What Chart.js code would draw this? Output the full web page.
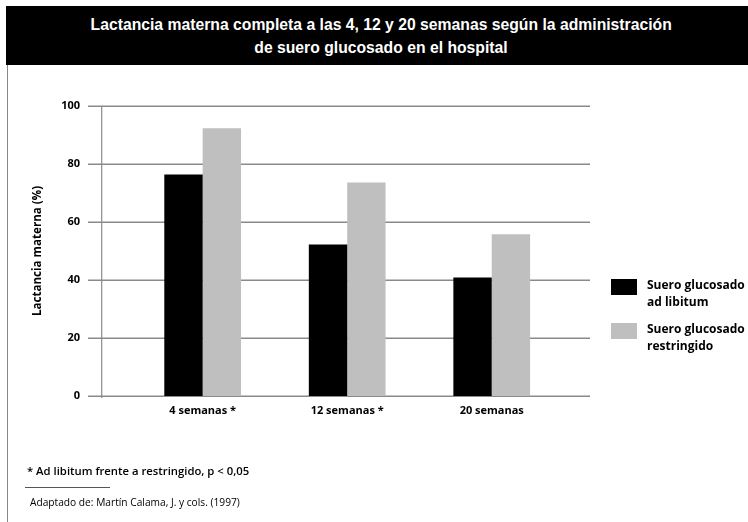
<!DOCTYPE html>
<html>
<head>
<meta charset="utf-8">
<script src="https://cdn.jsdelivr.net/npm/chart.js@4.4.1/dist/chart.umd.min.js"></script>
<style>
  html, body { margin:0; padding:0; background:#fff; }
  body { width:748px; height:522px; position:relative; overflow:hidden; font-family:"Open Sans", sans-serif; }
  #c { position:absolute; left:0; top:0; }
  #banner { position:absolute; left:6px; top:6px; width:742px; height:59px; background:#000; color:#fff;
    font-family:"Liberation Sans", sans-serif; font-weight:bold; font-size:17px;
    line-height:23px; text-align:center; box-sizing:border-box; padding-top:7px; padding-left:8px; }
  #banner span { display:inline-block; transform:scaleX(0.925); transform-origin:center; white-space:nowrap; }
  #lborder { position:absolute; left:7px; top:65px; width:1px; height:457px; background:#888; }
  .leg { position:absolute; left:611px; width:26px; height:16px; }
  .legt { position:absolute; left:647px; font-weight:bold; font-size:12px; line-height:17px; color:#000; }
  #note { position:absolute; left:27px; top:463px; font-size:11.3px; font-weight:600; color:#000; }
  #rule { position:absolute; left:25px; top:487px; width:85px; height:1px; background:#555; }
  #src { position:absolute; left:30px; top:495px; font-size:10.2px; color:#000; }
</style>
</head>
<body>
<canvas id="c" width="748" height="522"></canvas>
<div id="banner"><span>Lactancia materna completa a las 4, 12 y 20 semanas según la administración</span><br><span>de suero glucosado en el hospital</span></div>
<div id="lborder"></div>
<div class="leg" style="top:279px;background:#000"></div>
<div class="legt" style="top:276px">Suero glucosado<br>ad libitum</div>
<div class="leg" style="top:323px;background:#bfbfbf"></div>
<div class="legt" style="top:320px">Suero glucosado<br>restringido</div>
<div id="note">* Ad libitum frente a restringido, p &lt; 0,05</div>
<div id="rule"></div>
<div id="src">Adaptado de: Martín Calama, J. y cols. (1997)</div>
<script>
const categories = ["4 semanas *", "12 semanas *", "20 semanas"];
const seriesNames = ["Suero glucosado ad libitum", "Suero glucosado restringido"];
const adLibitum = [76.4, 52.2, 40.9];
const restringido = [92.3, 73.6, 55.8];
const yTicks = [0, 20, 40, 60, 80, 100];

const gridPlugin = {
  id: 'customGrid',
  beforeDatasetsDraw(chart) {
    const ctx = chart.ctx;
    const y = chart.scales.y;
    ctx.save();
    ctx.strokeStyle = '#8a8a8a';
    ctx.lineWidth = 1.5;
    yTicks.forEach(v => {
      const py = Math.round(y.getPixelForValue(v)) + 0.25;
      ctx.beginPath();
      ctx.moveTo(88, py);
      ctx.lineTo(590, py);
      ctx.stroke();
    });
    ctx.lineWidth = 1.2;
    ctx.beginPath();
    ctx.moveTo(101.7, y.getPixelForValue(100));
    ctx.lineTo(101.7, y.getPixelForValue(0) + 2);
    ctx.stroke();
    ctx.restore();
  }
};

new Chart(document.getElementById('c'), {
  type: 'bar',
  data: {
    labels: categories,
    datasets: [
      { label: seriesNames[0], data: adLibitum, backgroundColor: '#000000' },
      { label: seriesNames[1], data: restringido, backgroundColor: '#bfbfbf' }
    ]
  },
  options: {
    responsive: false,
    animation: false,
    devicePixelRatio: 1,
    layout: { padding: { left: 0, top: 106, right: 184, bottom: 96 } },
    plugins: { legend: { display: false }, tooltip: { enabled: false } },
    datasets: { bar: { categoryPercentage: 0.531, barPercentage: 1.0 } },
    scales: {
      x: {
        grid: { display: false, drawTicks: false },
        border: { display: false },
        ticks: { padding: 8, color: '#000', font: { family: 'Open Sans', weight: 'bold', size: 11 } },
        afterFit(s) { s.height = 30; }
      },
      y: {
        min: 0, max: 100,
        afterBuildTicks(s) { s.ticks = yTicks.map(v => ({ value: v })); },
        grid: { display: false, drawTicks: false },
        border: { display: false },
        ticks: { padding: 50.4, color: '#000', font: { family: 'Open Sans', weight: 'bold', size: 11 } },
        title: { display: true, text: 'Lactancia materna (%)', color: '#000',
                 font: { family: 'Open Sans', weight: 'bold', size: 11.6 }, padding: { top: 31, bottom: 0 } },
        afterFit(s) { s.width = 130.4; }
      }
    }
  },
  plugins: [gridPlugin]
});
</script>
</body>
</html>
